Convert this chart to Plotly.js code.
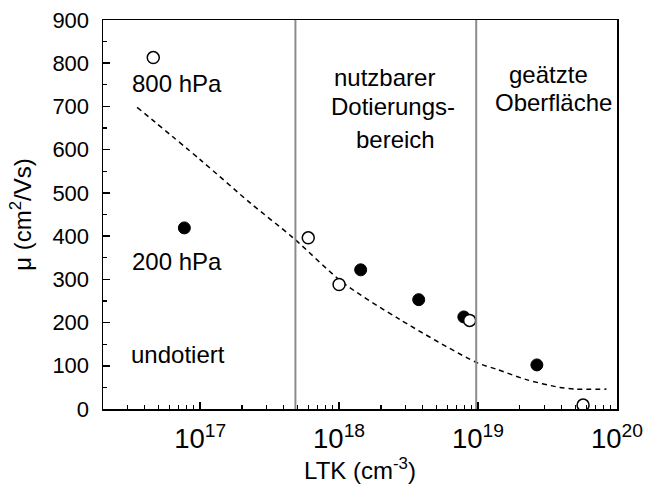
<!DOCTYPE html>
<html>
<head>
<meta charset="utf-8">
<script src="https://cdn.plot.ly/plotly-3.0.1.min.js"></script>
<style>html,body{margin:0;padding:0;background:#fff;}#chart{width:649px;height:484px;}</style>
</head>
<body>
<div id="chart"></div>
<script>
// 800 hPa samples (open circles)
const open800X = [4.6e16, 6.0e17, 1.0e18, 8.7e18, 5.7e19];
const open800Y = [813, 396, 288, 205, 9];
// 200 hPa samples (filled circles)
const filled200X = [7.7e16, 1.43e18, 3.74e18, 7.9e18, 2.65e19];
const filled200Y = [419, 322, 253, 213, 102];
// dashed guide curve
const fitX = [3.52e16, 1.0e17, 2.29e17, 4.67e17, 1.07e18, 2.74e18, 9.7e18, 1.39e19, 2.23e19, 3.87e19, 5.1e19, 8.4e19];
const fitY = [698, 577, 477, 396, 292, 207, 108, 91, 68, 50, 46, 46];
// region boundaries
const boundaries = [4.85e17, 9.7e18];
const yRange = [0, 900];
const xMin = 2e16, xMax = 1e20;

const font = 'Liberation Sans, Arial, sans-serif';

// minor tick positions for the log axis (2..9 in each decade)
const minorTicks = [];
for (let d = 16; d < 20; d++) {
  for (let k = 2; k <= 9; k++) {
    const v = k * Math.pow(10, d);
    if (v >= xMin && v <= xMax) minorTicks.push(v);
  }
}

const traces = [];
boundaries.forEach(b => traces.push({
  x: [b, b], y: yRange, mode: 'lines', type: 'scatter', xaxis: 'x2',
  line: {color: '#8c8c8c', width: 2}, hoverinfo: 'skip', showlegend: false
}));
traces.push({
  x: fitX, y: fitY, mode: 'lines', type: 'scatter',
  line: {color: 'black', width: 1.5, dash: '5px,4px', shape: 'spline', smoothing: 0.8},
  showlegend: false
});
traces.push({
  x: filled200X, y: filled200Y, mode: 'markers', type: 'scatter',
  marker: {symbol: 'circle', size: 12, color: 'black', line: {color: 'black', width: 1}},
  showlegend: false
});
traces.push({
  x: open800X, y: open800Y, mode: 'markers', type: 'scatter',
  marker: {symbol: 'circle', size: 12, color: 'white', line: {color: 'black', width: 1.5}},
  showlegend: false
});

function ann(text, x, y) {
  return {text: text, xref: 'paper', yref: 'paper', x: x, y: y,
    xanchor: 'center', yanchor: 'middle', showarrow: false,
    font: {family: font, size: 24, color: 'black'}};
}

const xRange = [Math.log10(xMin), Math.log10(xMax)];

const layout = {
  width: 649, height: 484,
  margin: {l: 103, r: 32, t: 20, b: 75},
  paper_bgcolor: 'white', plot_bgcolor: 'white',
  font: {family: font, color: 'black'},
  showlegend: false,
  xaxis: {
    type: 'log', range: xRange,
    dtick: 1, exponentformat: 'power',
    ticks: 'inside', ticklen: 7, tickwidth: 1.5, tickcolor: 'black',
    showline: true, linecolor: 'black', linewidth: 1.5, mirror: true,
    showgrid: false, zeroline: false,
    ticklabelstandoff: 6,
    tickfont: {family: font, size: 22, color: 'black'},
    title: {text: 'LTK (cm<sup>-3</sup>)', font: {family: font, size: 24, color: 'black'}, standoff: 19}
  },
  xaxis2: {
    type: 'log', range: xRange, overlaying: 'x', anchor: 'y', side: 'bottom',
    tickmode: 'array', tickvals: minorTicks, showticklabels: false,
    ticks: 'inside', ticklen: 4, tickwidth: 1.2, tickcolor: 'black',
    showline: false, showgrid: false, zeroline: false
  },
  yaxis: {
    range: yRange, dtick: 100,
    ticks: 'inside', ticklen: 7, tickwidth: 1.5, tickcolor: 'black',
    minor: {ticks: 'inside', ticklen: 4, tickwidth: 1.2, tickcolor: 'black', dtick: 50, showgrid: false},
    showline: true, linecolor: 'black', linewidth: 1.5, mirror: true,
    showgrid: false, zeroline: false,
    ticklabelstandoff: 8,
    tickfont: {family: font, size: 22, color: 'black'},
    title: {text: 'μ (cm<sup>2</sup>/Vs)', font: {family: font, size: 24, color: 'black'}, standoff: 14}
  },
  annotations: [
    ann('800 hPa', 0.1444, 0.8358),
    ann('200 hPa', 0.1449, 0.3791),
    ann('undotiert', 0.1459, 0.1395),
    ann('nutzbarer', 0.5486, 0.8510),
    ann('Dotierungs-', 0.5642, 0.7765),
    ann('bereich', 0.5700, 0.6917),
    ann('geätzte', 0.8663, 0.8587),
    ann('Oberfläche', 0.8768, 0.7868)
  ]
};

Plotly.newPlot('chart', traces, layout, {staticPlot: true, displayModeBar: false});
</script>
</body>
</html>
